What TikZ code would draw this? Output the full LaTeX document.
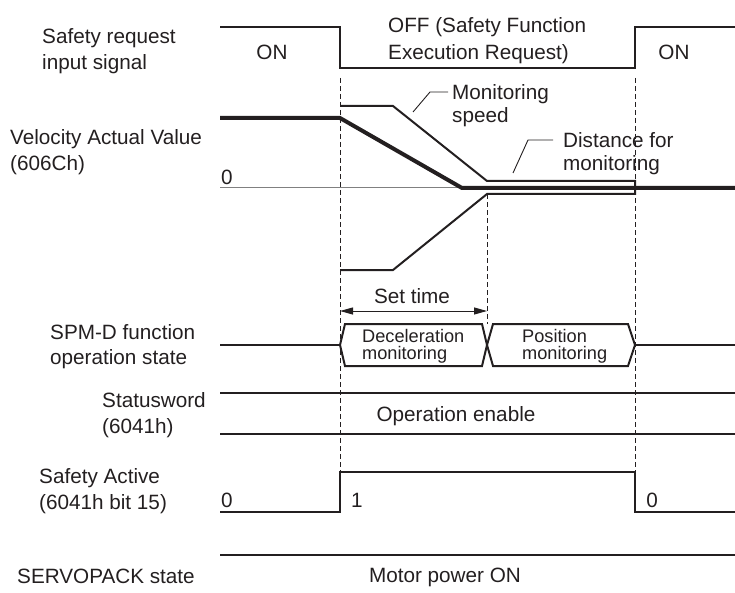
\documentclass[tikz,border=0pt]{standalone}
\usepackage{fontspec}
\setmainfont{Liberation Sans}
\usetikzlibrary{arrows.meta}
\definecolor{ink}{HTML}{231F20}
\begin{document}
\begin{tikzpicture}[x=1bp,y=-1bp,
  lbl/.style={font=\fontsize{20.7bp}{25.5bp}\selectfont, inner sep=0pt, align=left, text=ink},
  sml/.style={font=\fontsize{18.2bp}{17bp}\selectfont, inner sep=0pt, align=left, text=ink},
  sig/.style={line width=2bp, draw=ink},
  env/.style={line width=2bp, draw=ink},
  vel/.style={line width=4bp, draw=ink},
  guide/.style={dash pattern=on 5bp off 3bp, line width=0.8bp, draw=ink},
  leader/.style={line width=0.9bp, draw=ink},
  dimarrow/.style={line width=1bp, draw=ink, {Triangle[length=13bp,width=7bp]}-{Triangle[length=13bp,width=7bp]}}]
\useasboundingbox (0,0) rectangle (735,593);

% left labels
\node[lbl, anchor=west] (l1) at (42,51) {Safety request\\input signal};
\node[lbl, anchor=west] (l2) at (10,152) {Velocity Actual Value\\(606Ch)};
\node[lbl, anchor=west] (l3) at (50,346.5) {SPM-D function\\operation state};
\node[lbl, anchor=west] (l4) at (102,415) {Statusword\\(6041h)};
\node[lbl, anchor=west] (l5) at (39,491) {Safety Active\\(6041h bit 15)};
\node[lbl, anchor=west] (l6) at (17,576.5) {SERVOPACK state};

% dashed guides
\draw[guide] (340,78) -- (340,472);
\draw[guide] (635,78) -- (635,472);
\draw[guide] (487,194) -- (487,324);

% safety request input signal
\draw[sig] (220,27) -- (340,27) -- (340,68) -- (635,68) -- (635,27) -- (735,27);
\node[lbl] (on1) at (272,52.5) {ON};
\node[lbl, anchor=west, font=\fontsize{20.7bp}{27bp}\selectfont] (off) at (388,40.5) {OFF (Safety Function\\Execution Request)};
\node[lbl] (on2) at (674,52.5) {ON};

% velocity
\draw[line width=1bp, draw=gray] (220,188) -- (735,188);
\node[lbl] (zero) at (227,177) {0};
\draw[vel] (220,118) -- (340,118) -- (462,188) -- (735,188);
\draw[env] (340,106) -- (393,106) -- (487,181) -- (635,181) -- (635,194) -- (487,194) -- (393,270) -- (340,270);
\node[lbl, anchor=west, font=\fontsize{20.7bp}{23bp}\selectfont] (ms) at (452,105.5) {Monitoring\\speed};
\coordinate (msa) at (413,112);
\coordinate (msb) at (430,92);
\coordinate (msc) at (448,92);
\draw[leader] (msa) -- (msb) -- (msc);
\node[lbl, anchor=west, font=\fontsize{20.7bp}{23bp}\selectfont] (dm) at (563,153.5) {Distance for\\monitoring};
\coordinate (dma) at (513,173);
\coordinate (dmb) at (528,140);
\coordinate (dmc) at (553,140);
\draw[leader] (dma) -- (dmb) -- (dmc);

% set time
\coordinate (sta) at (340,311);
\coordinate (stb) at (487,311);
\draw[dimarrow] (sta) -- (stb);
\node[lbl] (st) at (412,296.5) {Set time};

% SPM-D
\draw[sig] (220,345) -- (340,345);
\draw[sig, line join=miter] (340,345) -- (345,324) -- (482,324) -- (487,345) -- (482,366) -- (345,366) -- cycle;
\draw[sig, line join=miter] (487,345) -- (493,324) -- (628,324) -- (635,345) -- (628,366) -- (493,366) -- cycle;
\draw[sig] (635,345) -- (735,345);
\node[sml, anchor=west] (dec) at (362,346.5) {Deceleration\\monitoring};
\node[sml, anchor=west] (pos) at (522,346.5) {Position\\monitoring};

% statusword
\draw[sig] (220,393) -- (735,393);
\draw[sig] (220,434) -- (735,434);
\node[lbl] (oe) at (456,416.5) {Operation enable};

% safety active
\draw[sig] (220,512) -- (340,512) -- (340,472) -- (635,472) -- (635,512) -- (735,512);
\node[lbl] (sa0) at (227,500) {0};
\node[lbl] (sa1) at (357,500) {1};
\node[lbl] (sa2) at (652,500) {0};

% servopack
\draw[sig] (220,555) -- (735,555);
\node[lbl] (mp) at (445,577) {Motor power ON};
\end{tikzpicture}
\end{document}
